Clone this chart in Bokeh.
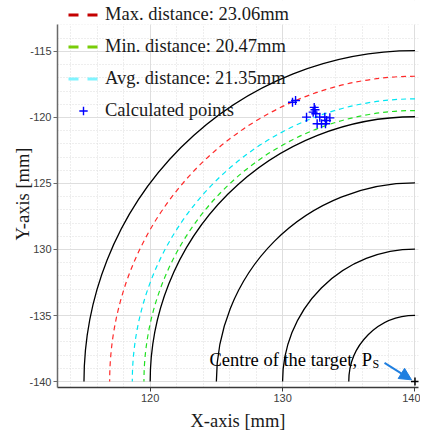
import math
from bokeh.plotting import figure
from bokeh.models import (Range1d, SingleIntervalTicker, Legend, LegendItem, Label,
                          Arrow, NormalHead, ColumnDataSource, BoxAnnotation)
from bokeh.embed import file_html
from bokeh.resources import INLINE

# ---------------- data ----------------
target_x = 140.0
target_y = -140.0
ref_radii = [5, 10, 15, 20, 25]                 # black reference circles [mm]
dist_labels = ["Max. distance: 23.06mm", "Min. distance: 20.47mm", "Avg. distance: 21.35mm"]
dist_values = [23.06, 20.47, 21.35]
dist_line_colors = ["#ff2a2a", "#22e022", "#00e6f2"]
dist_legend_colors = ["#c40000", "#78cc08", "#80f4ff"]

pts_x = [130.75, 130.98, 132.39, 132.45, 132.31, 132.51, 131.81, 132.81, 133.19, 133.57, 133.32, 132.61, 132.94, 133.24]
pts_y = [-118.85, -118.72, -119.24, -119.42, -119.60, -119.72, -119.98, -119.98, -119.98, -120.03, -120.23, -120.48, -120.48, -120.48]

x_tick_labels = {120: "120", 130: "130", 140: "140"}
y_tick_labels = {-115: "-115", -120: "-120", -125: "125", -130: "130", -135: "-135", -140: "-140"}

annot_text = "Centre of the target, P"
annot_sub = "S"
annot_pos = (124.48, -138.36)
annot_sub_pos = (136.79, -138.66)
arrow_start = (137.70, -138.58)
arrow_end = (139.74, -139.87)

# axes extents (plotting box) and the extra headroom used by the legend
x_lo, x_hi = 113.0, 140.266
y_lo, y_box_top = -140.45, -112.957
y_view_top = -111.145

# ---------------- figure ----------------
p = figure(width=420, height=433, output_backend="svg", toolbar_location=None,
           x_range=Range1d(x_lo, x_hi), y_range=Range1d(y_lo, y_view_top),
           min_border_left=57, min_border_right=2, min_border_top=0, min_border_bottom=45)
p.outline_line_color = None
p.background_fill_color = "white"

p.xaxis.ticker = SingleIntervalTicker(interval=10, num_minor_ticks=5)
p.yaxis.ticker = SingleIntervalTicker(interval=5, num_minor_ticks=5)
p.xaxis.major_label_overrides = x_tick_labels
p.yaxis.major_label_overrides = y_tick_labels
p.yaxis.bounds = (y_lo, y_box_top)
for ax in (p.xaxis, p.yaxis):
    ax.major_label_text_font = "Liberation Sans"
    ax.major_label_text_font_size = "11px"
    ax.major_label_text_color = "#404040"
    ax.major_tick_in = 0
    ax.major_tick_out = 4
    ax.minor_tick_line_color = None
    ax.major_label_standoff = 2
    ax.axis_line_width = 1.5
    ax.axis_label_text_font = "Liberation Serif"
    ax.axis_label_text_font_size = "18.5px"
    ax.axis_label_text_font_style = "normal"
    ax.axis_label_text_color = "#1a1a1a"
p.xaxis.axis_label = "X-axis [mm]"
p.yaxis.axis_label = "Y-axis [mm]"
p.xaxis.axis_label_standoff = 6
p.yaxis.axis_label_standoff = -7
p.xaxis.axis_line_color = "#3a3a3a"
p.xaxis.major_tick_line_color = "#3a3a3a"
p.yaxis.axis_line_color = "#6a6a6a"
p.yaxis.major_tick_line_color = "#6a6a6a"

for g in (p.xgrid, p.ygrid):
    g.grid_line_color = "#dedede"
    g.grid_line_width = 1
    g.minor_grid_line_color = "#dcdcdc"
    g.minor_grid_line_dash = "1 2"
    g.minor_grid_line_width = 1

# blank the headroom above the plotting box (hides grid lines there)
p.add_layout(BoxAnnotation(bottom=y_box_top, fill_color="white", fill_alpha=1.0,
                           line_alpha=0, level="underlay"))

# reference circles (quarter arcs)
src_ref = ColumnDataSource(dict(x=[target_x] * len(ref_radii), y=[target_y] * len(ref_radii), r=ref_radii))
p.arc(x="x", y="y", radius="r", start_angle=math.pi / 2, end_angle=math.pi,
      source=src_ref, line_color="black", line_width=1.3)

# distance arcs
legend_items = []
for lab, val, lc, gc in zip(dist_labels, dist_values, dist_line_colors, dist_legend_colors):
    p.arc(x=[target_x], y=[target_y], radius=[val], start_angle=math.pi / 2, end_angle=math.pi,
          line_color=lc, line_width=1.2, line_dash="5 4")
    # legend-only proxy (a single point draws no visible line in the plot)
    proxy = p.line(x=[target_x], y=[target_y], line_color=gc, line_width=3, line_dash="10 9")
    legend_items.append(LegendItem(label=lab, renderers=[proxy]))

pts = p.scatter(x=pts_x, y=pts_y, marker="cross", size=9, line_color="#0000ff", line_width=1.4)
legend_items.append(LegendItem(label="Calculated points", renderers=[pts]))

# target centre
p.scatter(x=[target_x], y=[target_y], marker="cross", size=8, line_color="black", line_width=1.5)

# annotation
p.add_layout(Arrow(end=NormalHead(size=12, fill_color="#1f7fe0", line_color="#1f7fe0"),
                   x_start=arrow_start[0], y_start=arrow_start[1],
                   x_end=arrow_end[0], y_end=arrow_end[1],
                   line_color="#1f7fe0", line_width=2))
p.add_layout(Label(x=annot_pos[0], y=annot_pos[1], text=annot_text, text_font="Liberation Serif",
                   text_font_size="18.5px", text_color="black", text_baseline="alphabetic", text_align="left"))
p.add_layout(Label(x=annot_sub_pos[0], y=annot_sub_pos[1], text=annot_sub, text_font="Liberation Serif",
                   text_font_size="12px", text_color="black", text_baseline="alphabetic", text_align="left"))

legend = Legend(items=legend_items, location=(11, 266.5), orientation="vertical",
                label_text_font="Liberation Serif", label_text_font_size="18.5px",
                label_text_color="#1a1a1a", glyph_width=30, glyph_height=21, label_height=21,
                spacing=11, padding=0, margin=0, label_standoff=7,
                border_line_color=None, background_fill_alpha=0)
p.add_layout(legend)

open("out.html", "w").write(file_html(p, INLINE))
